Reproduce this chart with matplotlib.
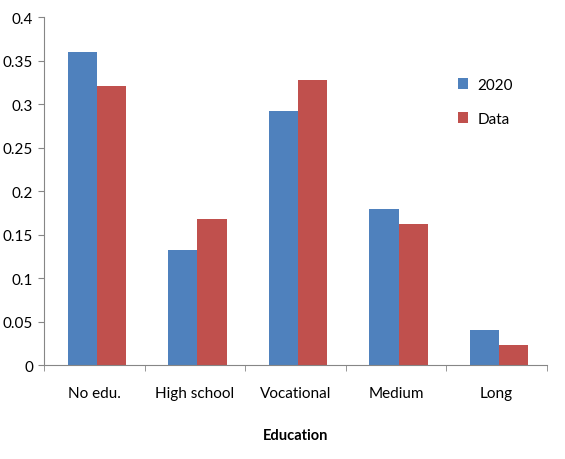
import matplotlib.pyplot as plt
import numpy as np

categories = ["No edu.", "High school", "Vocational", "Medium", "Long"]
val_2020 = [0.360, 0.133, 0.292, 0.180, 0.040]
val_data = [0.321, 0.168, 0.328, 0.162, 0.023]

blue = "#4F81BD"
red = "#C0504D"
gray = "#868686"

plt.rcParams['font.family'] = ['Lato', 'DejaVu Sans']

fig = plt.figure(figsize=(5.65, 4.6), dpi=100)
ax = fig.add_axes([0.078, 0.204, 0.89, 0.756])

x = np.arange(len(categories))
w = 0.29
shift = 0.025  # groups sit a bit right of the category centre
ax.bar(x - w / 2 + shift, val_2020, w, color=blue, label="2020")
ax.bar(x + w / 2 + shift, val_data, w, color=red, label="Data")

ax.set_xlim(-0.5, len(categories) - 0.5)
ax.set_ylim(0, 0.4)
ax.set_yticks(np.arange(0, 0.41, 0.05))
ax.set_yticklabels(["0", "0.05", "0.1", "0.15", "0.2", "0.25", "0.3", "0.35", "0.4"])
ax.set_xticks(x)
ax.set_xticklabels(categories)
ax.set_xticks(np.arange(-0.5, len(categories), 1), minor=True)

for s in ["top", "right"]:
    ax.spines[s].set_visible(False)
for s in ["left", "bottom"]:
    ax.spines[s].set_color(gray)

ax.tick_params(axis="x", which="major", length=0, pad=15, labelsize=11)
ax.tick_params(axis="x", which="minor", length=4, color=gray)
ax.tick_params(axis="y", length=4, color=gray, labelsize=11, pad=4)

ax.set_xlabel("Education", fontweight="bold", fontsize=10.5, labelpad=20)

ax.legend(loc="upper left", bbox_to_anchor=(0.795, 0.865), frameon=False,
          handlelength=0.7, handleheight=0.7, labelspacing=1.3,
          handletextpad=0.6, fontsize=11)

fig.savefig("out.png", dpi=100)
